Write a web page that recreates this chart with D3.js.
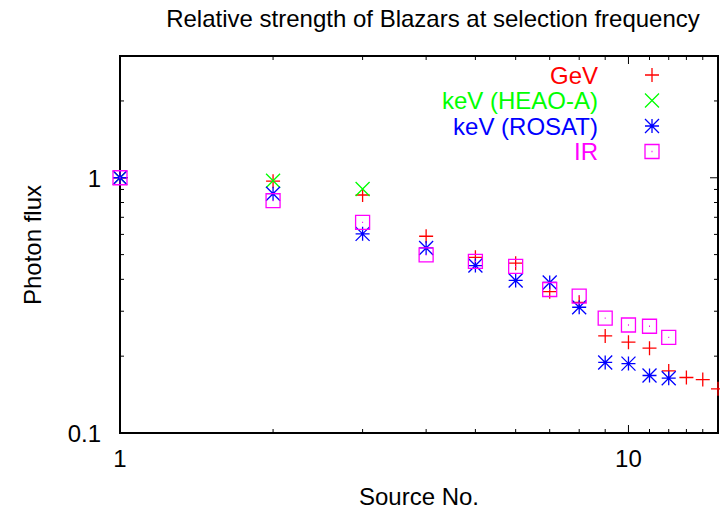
<!DOCTYPE html>
<html>
<head>
<meta charset="utf-8">
<script src="https://cdn.jsdelivr.net/npm/d3@7"></script>
<style>
  body { margin: 0; background: #fff; }
  text { font-family: "Liberation Sans", Arial, sans-serif; }
</style>
</head>
<body>
<div id="chart"></div>
<script>
// source numbers 1..15, photon flux normalised to source 1
var gevX   = [1, 2, 3, 4, 5, 6, 7, 8, 9, 10, 11, 12, 13, 14, 15];
var gevY   = [1.0, 0.97, 0.856, 0.59, 0.488, 0.463, 0.358, 0.325, 0.24, 0.227, 0.215, 0.175, 0.165, 0.162, 0.149];
var heaoX  = [1, 2, 3];
var heaoY  = [1.0, 0.973, 0.903];
var rosatX = [1, 2, 3, 4, 5, 6, 7, 8, 9, 10, 11, 12];
var rosatY = [1.0, 0.866, 0.603, 0.531, 0.453, 0.396, 0.389, 0.311, 0.189, 0.187, 0.168, 0.164];
var irX    = [1, 2, 3, 4, 5, 6, 7, 8, 9, 10, 11, 12];
var irY    = [1.0, 0.813, 0.669, 0.499, 0.47, 0.45, 0.365, 0.344, 0.282, 0.265, 0.262, 0.237];

var xTicks = [1, 10];
var yTicks = [0.1, 1];

var series = [
  {name: "GeV",            color: "#ff0000", marker: "plus",     xs: gevX,   ys: gevY},
  {name: "keV (HEAO-A)",   color: "#00ff00", marker: "cross",    xs: heaoX,  ys: heaoY},
  {name: "keV (ROSAT)",    color: "#0000ff", marker: "star",     xs: rosatX, ys: rosatY},
  {name: "IR",             color: "#ff00ff", marker: "dotbox",   xs: irX,    ys: irY}
];

var width = 720, height = 509;
var margin = {left: 120, right: 2, top: 56, bottom: 76};
var fs = 24;

var svg = d3.select("#chart").append("svg")
    .attr("width", width).attr("height", height);

var x = d3.scaleLog().domain([1, 15]).range([margin.left, width - margin.right]);
var y = d3.scaleLog().domain([0.1, 3]).range([height - margin.bottom, margin.top]);

var x0 = x.range()[0], x1 = x.range()[1];
var y0 = y.range()[0], y1 = y.range()[1];

// minor tick values
var xMinor = d3.range(2, 16).filter(function(v) { return v != 10; });
var yMinor = [0.2, 0.3, 0.4, 0.5, 0.6, 0.7, 0.8, 0.9, 2, 3];

var ticks = svg.append("g").attr("stroke", "#000").attr("stroke-width", 1);
xTicks.forEach(function(v) {
  ticks.append("line").attr("x1", x(v)).attr("x2", x(v)).attr("y1", y0).attr("y2", y0 - 8);
  ticks.append("line").attr("x1", x(v)).attr("x2", x(v)).attr("y1", y1).attr("y2", y1 + 8);
});
xMinor.forEach(function(v) {
  ticks.append("line").attr("x1", x(v)).attr("x2", x(v)).attr("y1", y0).attr("y2", y0 - 4);
  ticks.append("line").attr("x1", x(v)).attr("x2", x(v)).attr("y1", y1).attr("y2", y1 + 4);
});
yTicks.forEach(function(v) {
  ticks.append("line").attr("x1", x0).attr("x2", x0 + 8).attr("y1", y(v)).attr("y2", y(v));
  ticks.append("line").attr("x1", x1).attr("x2", x1 - 8).attr("y1", y(v)).attr("y2", y(v));
});
yMinor.forEach(function(v) {
  ticks.append("line").attr("x1", x0).attr("x2", x0 + 4).attr("y1", y(v)).attr("y2", y(v));
  ticks.append("line").attr("x1", x1).attr("x2", x1 - 4).attr("y1", y(v)).attr("y2", y(v));
});

svg.append("rect")
  .attr("x", x0).attr("y", y1).attr("width", x1 - x0).attr("height", y0 - y1)
  .attr("fill", "none").attr("stroke", "#000").attr("stroke-width", 2);

// tick labels
svg.selectAll("text.xt").data(xTicks).enter().append("text")
  .attr("class", "xt")
  .attr("x", function(d) { return x(d); }).attr("y", y0 + 34)
  .attr("text-anchor", "middle").attr("font-size", fs)
  .text(function(d) { return d; });
svg.selectAll("text.yt").data(yTicks).enter().append("text")
  .attr("class", "yt")
  .attr("x", x0 - 19).attr("y", function(d) { return y(d) + 9; })
  .attr("text-anchor", "end").attr("font-size", fs)
  .text(function(d) { return d; });

svg.append("text").attr("x", 433).attr("y", 27)
  .attr("text-anchor", "middle").attr("font-size", fs)
  .text("Relative strength of Blazars at selection frequency");
svg.append("text").attr("x", 419).attr("y", 505)
  .attr("text-anchor", "middle").attr("font-size", fs)
  .text("Source No.");
svg.append("text").attr("transform", "translate(41,245) rotate(-90)")
  .attr("text-anchor", "middle").attr("font-size", fs)
  .text("Photon flux");

function markerPath(type, cx, cy) {
  var s = 7;
  var p = d3.path();
  if (type == "plus" || type == "star") {
    p.moveTo(cx - s, cy); p.lineTo(cx + s, cy);
    p.moveTo(cx, cy - s); p.lineTo(cx, cy + s);
  }
  if (type == "cross" || type == "star") {
    p.moveTo(cx - s, cy - s); p.lineTo(cx + s, cy + s);
    p.moveTo(cx - s, cy + s); p.lineTo(cx + s, cy - s);
  }
  if (type == "dotbox") {
    p.rect(cx - s, cy - s, 2 * s, 2 * s);
    p.moveTo(cx - 0.5, cy); p.lineTo(cx + 0.5, cy);
  }
  return p.toString();
}

series.forEach(function(sr) {
  var pts = sr.xs.map(function(v, i) { return [v, sr.ys[i]]; });
  svg.append("g").selectAll("path").data(pts).enter().append("path")
    .attr("d", function(d) { return markerPath(sr.marker, x(d[0]), y(d[1])); })
    .attr("fill", "none").attr("stroke", sr.color).attr("stroke-width", 1.3);
});

// legend
var legend = svg.append("g");
series.forEach(function(sr, i) {
  var ly = 75 + i * 25.5;
  legend.append("text").attr("x", 598).attr("y", ly + 8.5)
    .attr("text-anchor", "end").attr("font-size", fs).attr("fill", sr.color)
    .text(sr.name);
  legend.append("path").attr("d", markerPath(sr.marker, 652, ly))
    .attr("fill", "none").attr("stroke", sr.color).attr("stroke-width", 1.3);
});
</script>
</body>
</html>
